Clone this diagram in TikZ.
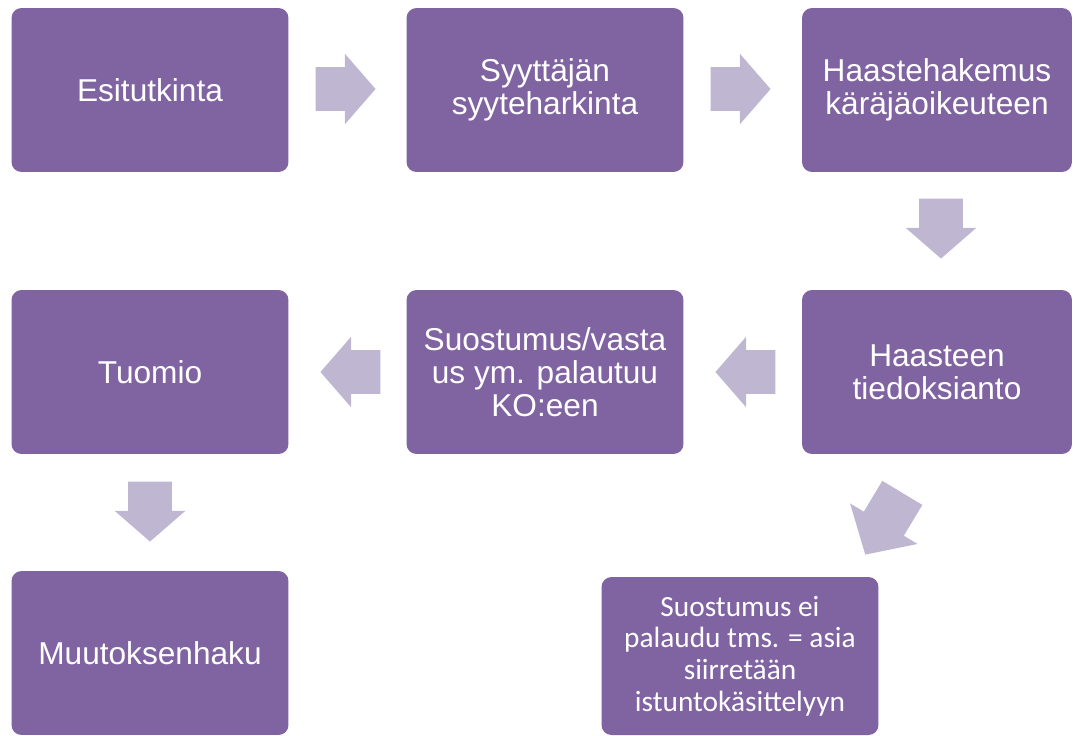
\documentclass[tikz,border=0pt]{standalone}
\usepackage{fontspec}
\setmainfont{Liberation Sans}
\newfontfamily\calibrifont{Carlito}
\usetikzlibrary{shapes.arrows}
\definecolor{boxpurple}{RGB}{128,100,162}
\definecolor{arrowlilac}{RGB}{191,182,209}

\begin{document}
\begin{tikzpicture}[x=0.02cm, y=-0.02cm,
        stagebox/.style={fill=boxpurple, rounded corners=0.2cm, text=white,
            align=center, inner sep=0pt, minimum width=5.54cm, minimum height=3.28cm,
            font=\fontsize{18}{18.7}\selectfont},
        flowarrow/.style={single arrow, fill=arrowlilac, inner sep=0pt, anchor=tip,
            text height=0.86cm, text depth=0pt,
            minimum height=1.2cm, minimum width=1.4cm,
            single arrow head extend=0.27cm, single arrow tip angle=98}]
        \useasboundingbox (0,0) rectangle (1075,735);

        % first row
        \node[stagebox] (esitutkinta) at (150,90) {Esitutkinta};
        \node[stagebox] (syyteharkinta) at (545,90) {Syyttäjän\\syyteharkinta};
        \node[stagebox, minimum width=5.4cm] (haastehakemus) at (937,90) {Haastehakemus\\käräjäoikeuteen};

        % second row
        \node[stagebox] (tuomio) at (150,372) {Tuomio};
        \node[stagebox] (suostumus) at (545,372) {Suostumus/vasta\\us ym. palautuu\\KO:een};
        \node[stagebox, minimum width=5.4cm] (tiedoksianto) at (937,372) {Haasteen\\tiedoksianto};

        % third row
        \node[stagebox] (muutoksenhaku) at (150,653) {Muutoksenhaku};
        \node[stagebox, minimum height=3.16cm, font=\calibrifont\fontsize{16.7}{18.1}\selectfont]
            (istunto) at (740,656) {Suostumus ei\\palaudu tms. = asia\\siirretään\\istuntokäsittelyyn};

        % arrows between the stages (placed by their tips)
        \node[flowarrow] (a1) at (376,89) {};
        \node[flowarrow] (a2) at (771,89) {};
        \node[flowarrow, rotate=270] (a3) at (941,259) {};
        \node[flowarrow, rotate=180] (a4) at (715,372) {};
        \node[flowarrow, rotate=180] (a5) at (320,372) {};
        \node[flowarrow, rotate=270] (a6) at (150,542) {};
        \node[flowarrow, rotate=239, text height=0.92cm, minimum height=1.44cm,
            minimum width=1.56cm, single arrow head extend=0.32cm,
            single arrow tip angle=95] (a7) at (865,555) {};
\end{tikzpicture}
\end{document}
